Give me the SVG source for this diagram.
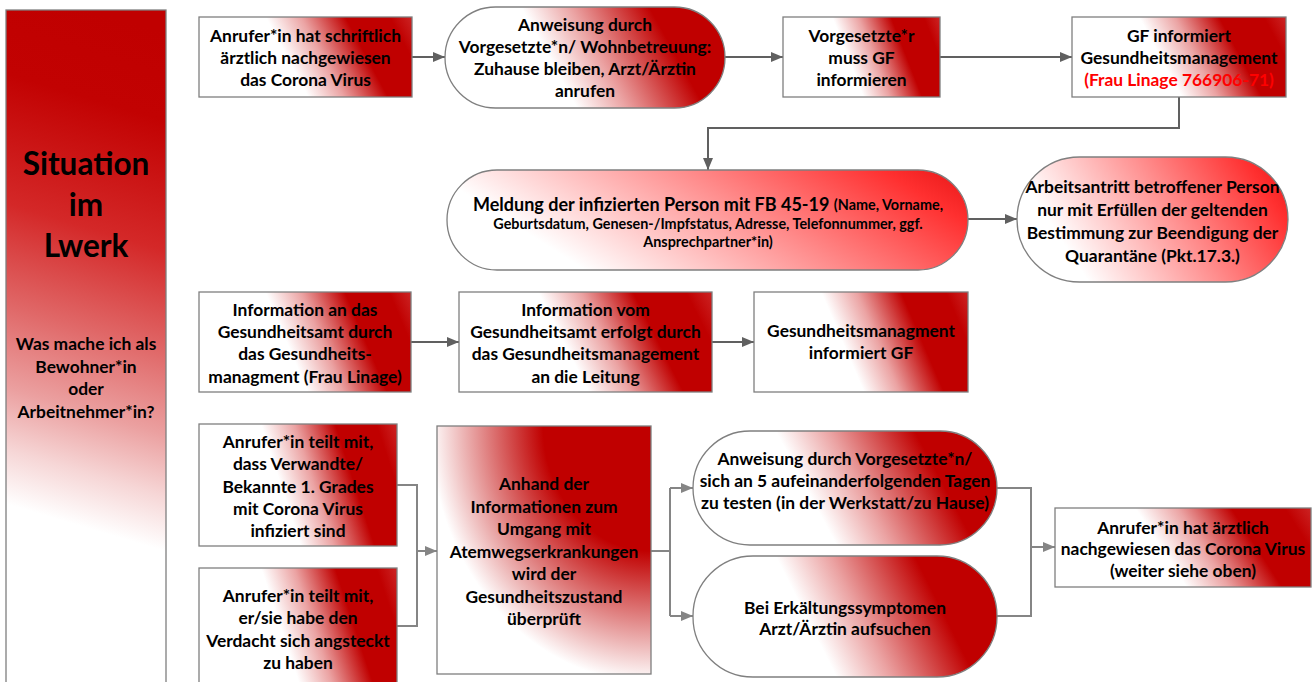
<svg xmlns="http://www.w3.org/2000/svg" width="1315" height="682" viewBox="0 0 1315 682">
<defs>
<style>
.t{font-family:Lato,"Liberation Sans",sans-serif;font-weight:700;font-size:17.4px;fill:#000;text-anchor:middle;dominant-baseline:central}
.m{font-size:18px}
.s{font-size:14.4px}
.red{fill:#ff0000}
.title{font-size:31.5px}
.box{stroke:#7f7f7f;stroke-width:1.3}
.c{fill:none;stroke:#606060;stroke-width:2}
.l{stroke:#858585}
.a{marker-end:url(#ar)}
.al{marker-end:url(#arl)}
</style>
<marker id="ar" markerUnits="userSpaceOnUse" markerWidth="12" markerHeight="10" refX="12" refY="5" orient="auto">
<path d="M0,0 L12,5 L0,10 z" fill="#606060"/>
</marker>
<marker id="arl" markerUnits="userSpaceOnUse" markerWidth="12" markerHeight="10" refX="12" refY="5" orient="auto">
<path d="M0,0 L12,5 L0,10 z" fill="#858585"/>
</marker>
<linearGradient id="gR" x1="0" y1="0.2" x2="1" y2="0">
<stop offset="0.34" stop-color="#ffffff"/>
<stop offset="0.5" stop-color="#eba3a3"/>
<stop offset="0.7" stop-color="#C00000"/>
<stop offset="0.9" stop-color="#C00000"/>
<stop offset="1" stop-color="#cc2424"/>
</linearGradient>
<radialGradient id="gBig" cx="1" cy="0" r="1.2" fx="1" fy="0">
<stop offset="0" stop-color="#C00000"/>
<stop offset="0.42" stop-color="#C00000"/>
<stop offset="0.86" stop-color="#ffffff"/>
</radialGradient>
<linearGradient id="gP" x1="0" y1="0.2" x2="1" y2="0">
<stop offset="0.3" stop-color="#ffffff"/>
<stop offset="0.47" stop-color="#eba3a3"/>
<stop offset="0.74" stop-color="#C00000"/>
</linearGradient>
<linearGradient id="gB" x1="0" y1="0.3" x2="1" y2="0">
<stop offset="0" stop-color="#ffffff"/>
<stop offset="0.05" stop-color="#ffffff"/>
<stop offset="0.5" stop-color="#ff8c8c"/>
<stop offset="0.85" stop-color="#ff3030"/>
<stop offset="1" stop-color="#e61616"/>
</linearGradient>
<linearGradient id="gL" x1="0.535" y1="0" x2="0.465" y2="1">
<stop offset="0" stop-color="#C00000"/>
<stop offset="0.13" stop-color="#c20202"/>
<stop offset="0.32" stop-color="#d42828"/>
<stop offset="0.47" stop-color="#e06868"/>
<stop offset="0.59" stop-color="#eba0a0"/>
<stop offset="0.68" stop-color="#f6d6d6"/>
<stop offset="0.76" stop-color="#ffffff"/>
</linearGradient>
</defs>
<rect width="1315" height="682" fill="#ffffff"/>

<g id="connectors">
<line class="c a" x1="412" y1="57" x2="445" y2="57"/>
<line class="c a" x1="725" y1="57" x2="783" y2="57"/>
<line class="c a" x1="940" y1="57" x2="1072" y2="57"/>
<polyline class="c a" points="1179,97 1179,128 708,128 708,170"/>
<line class="c a" x1="968" y1="219" x2="1017" y2="219"/>
<line class="c a" x1="411" y1="342" x2="459" y2="342"/>
<line class="c a" x1="712" y1="342" x2="754" y2="342"/>
<polyline class="c l" points="397,485 417,485 417,626 397,626"/>
<line class="c l al" x1="417" y1="551" x2="437" y2="551"/>
<polyline class="c l" points="651,551 670,551"/>
<polyline class="c l" points="670,488 670,616"/>
<line class="c l al" x1="670" y1="488" x2="693" y2="488"/>
<line class="c l al" x1="670" y1="616" x2="693" y2="616"/>
<polyline class="c l" points="997,488 1031,488 1031,616 997,616"/>
<line class="c l al" x1="1031" y1="547" x2="1055" y2="547"/>
</g>

<g id="panel">
<rect class="box" x="6" y="10" width="160" height="680" fill="url(#gL)"/>
<text class="t title" x="86" y="163">Situation</text>
<text class="t title" x="86" y="204">im</text>
<text class="t title" x="86" y="245">Lwerk</text>
<text class="t" x="86" y="343">Was mache ich als</text>
<text class="t" x="86" y="366">Bewohner*in</text>
<text class="t" x="86" y="388">oder</text>
<text class="t" x="86" y="411">Arbeitnehmer*in?</text>
</g>

<g id="n1">
<rect class="box" x="199" y="17" width="213" height="80" fill="url(#gR)"/>
<text class="t" x="305.5" y="35">Anrufer*in hat schriftlich</text>
<text class="t" x="305.5" y="57">ärztlich nachgewiesen</text>
<text class="t" x="305.5" y="79">das Corona Virus</text>
</g>

<g id="n2">
<rect class="box" x="445" y="7" width="280" height="101" rx="50.5" fill="url(#gP)"/>
<text class="t" x="585" y="24">Anweisung durch</text>
<text class="t" x="585" y="46">Vorgesetzte*n/ Wohnbetreuung:</text>
<text class="t" x="585" y="68">Zuhause bleiben, Arzt/Ärztin</text>
<text class="t" x="585" y="90">anrufen</text>
</g>

<g id="n3">
<rect class="box" x="783" y="17" width="157" height="80" fill="url(#gR)"/>
<text class="t" x="861.5" y="35">Vorgesetzte*r</text>
<text class="t" x="861.5" y="57">muss GF</text>
<text class="t" x="861.5" y="79">informieren</text>
</g>

<g id="n4">
<rect class="box" x="1072" y="17" width="214" height="80" fill="url(#gR)"/>
<text class="t" x="1179" y="35">GF informiert</text>
<text class="t" x="1179" y="57">Gesundheitsmanagement</text>
<text class="t red" x="1179" y="79">(Frau Linage 766906-71)</text>
</g>

<g id="n5">
<rect class="box" x="447" y="170" width="521" height="100" rx="50" fill="url(#gB)"/>
<text class="t m" x="708" y="204">Meldung der infizierten Person mit FB 45-19 <tspan class="s">(Name, Vorname,</tspan></text>
<text class="t s" x="708" y="223">Geburtsdatum, Genesen-/Impfstatus, Adresse, Telefonnummer, ggf.</text>
<text class="t s" x="708" y="241">Ansprechpartner*in)</text>
</g>

<g id="n6">
<rect class="box" x="1017" y="157" width="271" height="125" rx="62.5" fill="url(#gB)"/>
<text class="t" x="1152.5" y="186">Arbeitsantritt betroffener Person</text>
<text class="t" x="1152.5" y="209">nur mit Erfüllen der geltenden</text>
<text class="t" x="1152.5" y="232">Bestimmung zur Beendigung der</text>
<text class="t" x="1152.5" y="255">Quarantäne (Pkt.17.3.)</text>
</g>

<g id="n7">
<rect class="box" x="199" y="292" width="212" height="100" fill="url(#gR)"/>
<text class="t" x="305" y="309">Information an das</text>
<text class="t" x="305" y="331">Gesundheitsamt durch</text>
<text class="t" x="305" y="353">das Gesundheits-</text>
<text class="t" x="305" y="376">managment (Frau Linage)</text>
</g>

<g id="n8">
<rect class="box" x="459" y="292" width="253" height="100" fill="url(#gR)"/>
<text class="t" x="585.5" y="309">Information vom</text>
<text class="t" x="585.5" y="331">Gesundheitsamt erfolgt durch</text>
<text class="t" x="585.5" y="353">das Gesundheitsmanagement</text>
<text class="t" x="585.5" y="376">an die Leitung</text>
</g>

<g id="n9">
<rect class="box" x="754" y="292" width="214" height="100" fill="url(#gR)"/>
<text class="t" x="861" y="330">Gesundheitsmanagment</text>
<text class="t" x="861" y="352">informiert GF</text>
</g>

<g id="n10">
<rect class="box" x="199" y="424" width="198" height="122" fill="url(#gR)"/>
<text class="t" x="298" y="441">Anrufer*in teilt mit,</text>
<text class="t" x="298" y="463">dass Verwandte/</text>
<text class="t" x="298" y="486">Bekannte 1. Grades</text>
<text class="t" x="298" y="508">mit Corona Virus</text>
<text class="t" x="298" y="530">infiziert sind</text>
</g>

<g id="n11">
<rect class="box" x="199" y="568" width="198" height="120" fill="url(#gR)"/>
<text class="t" x="298" y="595">Anrufer*in teilt mit,</text>
<text class="t" x="298" y="617">er/sie habe den</text>
<text class="t" x="298" y="640">Verdacht sich angsteckt</text>
<text class="t" x="298" y="662">zu haben</text>
</g>

<g id="n12">
<rect class="box" x="437" y="426" width="214" height="248" fill="url(#gBig)"/>
<text class="t" x="544" y="483">Anhand der</text>
<text class="t" x="544" y="506">Informationen zum</text>
<text class="t" x="544" y="528">Umgang mit</text>
<text class="t" x="544" y="551">Atemwegserkrankungen</text>
<text class="t" x="544" y="573">wird der</text>
<text class="t" x="544" y="596">Gesundheitszustand</text>
<text class="t" x="544" y="618">überprüft</text>
</g>

<g id="n13">
<rect class="box" x="693" y="431" width="304" height="114" rx="57" fill="url(#gP)"/>
<text class="t" x="845" y="458">Anweisung durch Vorgesetzte*n/</text>
<text class="t" x="845" y="480">sich an 5 aufeinanderfolgenden Tagen</text>
<text class="t" x="845" y="502">zu testen (in der Werkstatt/zu Hause)</text>
</g>

<g id="n14">
<rect class="box" x="693" y="556" width="304" height="121" rx="60" fill="url(#gP)"/>
<text class="t" x="845" y="607">Bei Erkältungssymptomen</text>
<text class="t" x="845" y="628">Arzt/Ärztin aufsuchen</text>
</g>

<g id="n15">
<rect class="box" x="1055" y="508" width="256" height="79" fill="url(#gR)"/>
<text class="t" x="1183" y="527">Anrufer*in hat ärztlich</text>
<text class="t" x="1183" y="548">nachgewiesen das Corona Virus</text>
<text class="t" x="1183" y="570">(weiter siehe oben)</text>
</g>
</svg>
